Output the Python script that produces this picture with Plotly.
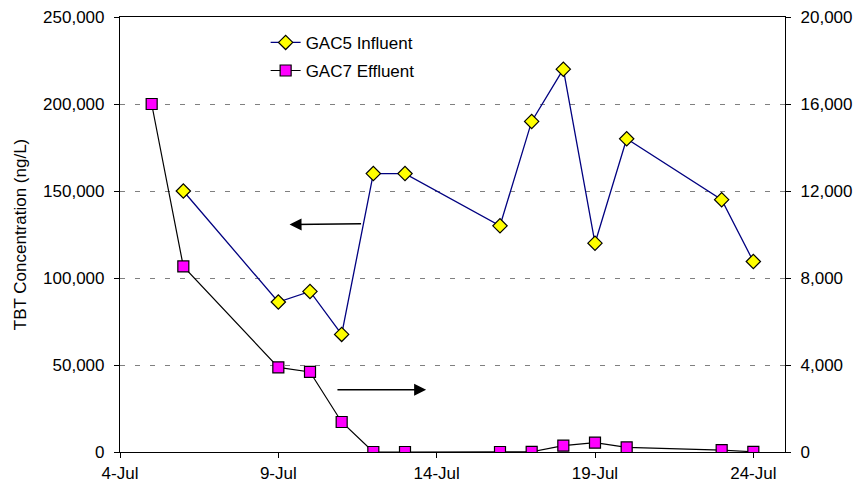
import plotly.graph_objects as go

# ---- data ----
influent_dates = ["2006-07-06", "2006-07-09", "2006-07-10", "2006-07-11", "2006-07-12",
                  "2006-07-13", "2006-07-16", "2006-07-17", "2006-07-18", "2006-07-19",
                  "2006-07-20", "2006-07-23", "2006-07-24"]
influent_values = [150000, 86200, 92300, 67600, 160000, 160000, 130000, 190000,
                   220000, 120000, 180000, 145000, 109500]

effluent_dates = ["2006-07-05", "2006-07-06", "2006-07-09", "2006-07-10", "2006-07-11",
                  "2006-07-12", "2006-07-13", "2006-07-16", "2006-07-17", "2006-07-18",
                  "2006-07-19", "2006-07-20", "2006-07-23", "2006-07-24"]
effluent_values = [16000, 8530, 3890, 3680, 1380, 0, 0, 0, 10, 290, 430, 210, 90, 10]

x_tick_vals = ["2006-07-04", "2006-07-09", "2006-07-14", "2006-07-19", "2006-07-24"]
x_tick_text = ["4-Jul", "9-Jul", "14-Jul", "19-Jul", "24-Jul"]
left_ticks = [0, 50000, 100000, 150000, 200000, 250000]
right_ticks = [0, 4000, 8000, 12000, 16000, 20000]

FONT = "Arial, Liberation Sans, sans-serif"
FS = 17

fig = go.Figure()
fig.add_trace(go.Scatter(
    x=influent_dates, y=influent_values, name="GAC5 Influent", legendgroup="a",
    mode="lines+markers",
    line=dict(color="#000080", width=1.3),
    marker=dict(symbol="diamond", size=11, color="#FFFF00",
                line=dict(color="#000000", width=1.2)),
    yaxis="y"))
fig.add_trace(go.Scatter(
    x=effluent_dates, y=effluent_values, name="GAC7 Effluent", legendgroup="b",
    mode="lines+markers",
    line=dict(color="#000000", width=1.2),
    marker=dict(symbol="square", size=11, color="#FF00FF",
                line=dict(color="#000000", width=1.2)),
    yaxis="y2"))

# direction arrows (which axis each series uses)
fig.add_annotation(x="2006-07-09 08:30", y=130700, ax="2006-07-11 15:50", ay=131200,
                   xref="x", yref="y", axref="x", ayref="y", text="",
                   showarrow=True, arrowhead=2, arrowsize=1.6, arrowwidth=1.5,
                   arrowcolor="#000000")
fig.add_annotation(x="2006-07-13 16:00", y=35800, ax="2006-07-10 19:40", ay=35800,
                   xref="x", yref="y", axref="x", ayref="y", text="",
                   showarrow=True, arrowhead=2, arrowsize=1.6, arrowwidth=1.5,
                   arrowcolor="#000000")

axis_common = dict(showline=True, linecolor="#000000", linewidth=1.2,
                   ticks="outside", ticklen=5, tickcolor="#000000", automargin=False,
                   tickfont=dict(family=FONT, size=FS, color="#000000"))

fig.update_layout(
    width=858, height=490,
    margin=dict(l=120, r=73, t=17, b=38),
    paper_bgcolor="white", plot_bgcolor="white",
    font=dict(family=FONT, size=FS, color="#000000"),
    showlegend=True,
    legend=dict(x=0.219, y=0.982, xanchor="left", yanchor="top",
                bgcolor="rgba(0,0,0,0)", font=dict(family=FONT, size=FS),
                tracegroupgap=3, itemsizing="trace"),
    xaxis=dict(type="date", range=["2006-07-04", "2006-07-25"],
               tickvals=x_tick_vals, ticktext=x_tick_text,
               showgrid=False, zeroline=False, mirror=True, **axis_common),
    yaxis=dict(range=[0, 250000], tickvals=left_ticks, tickformat=",",
               showgrid=True, gridcolor="#808080", gridwidth=1, griddash="5px,10px",
               zeroline=False, title=dict(text="TBT Concentration (ng/L)",
                                          font=dict(family=FONT, size=FS), standoff=12),
               ticklabelstandoff=6, **axis_common),
    yaxis2=dict(range=[0, 20000], tickvals=right_ticks, tickformat=",",
                overlaying="y", side="right", showgrid=False, zeroline=False,
                ticklabelstandoff=6, **axis_common),
)

fig.write_html("out.html", config={"displayModeBar": False},
               post_script="document.body.style.margin='0';document.body.style.overflow='hidden';")
